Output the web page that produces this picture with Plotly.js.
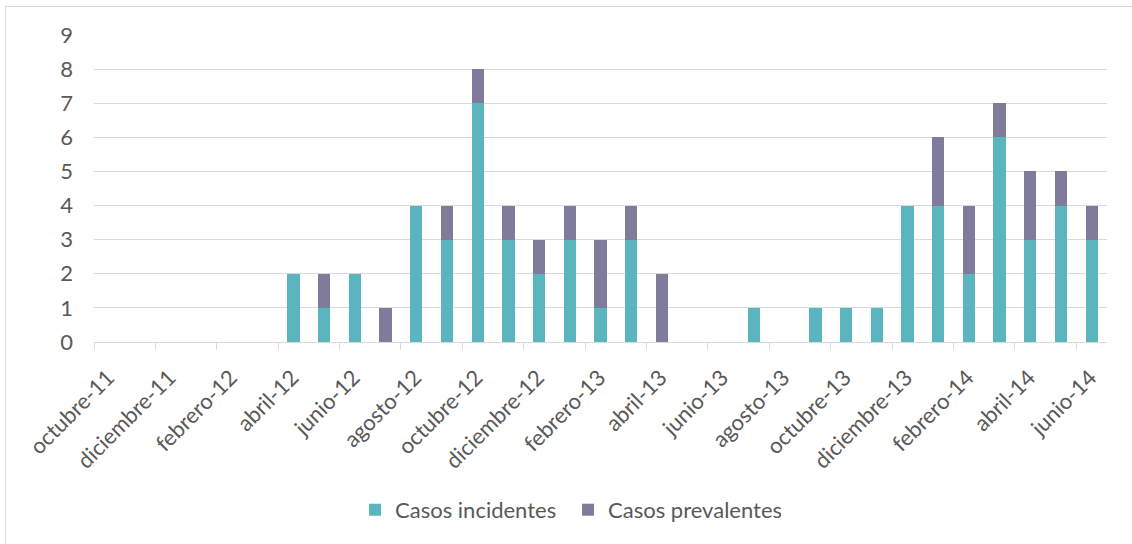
<!DOCTYPE html>
<html>
<head>
<meta charset="utf-8">
<script src="https://cdn.plot.ly/plotly-3.0.1.min.js"></script>
<style>
  html, body { margin: 0; padding: 0; background: #ffffff; }
  #wrap { position: relative; width: 1132px; height: 544px; overflow: hidden; }
  #chart { position: absolute; left: 0; top: 0; width: 1132px; height: 544px; }
  #frame { position: absolute; left: 5px; top: 6px; width: 1140px; height: 560px;
           border-left: 1px solid #d9d9d9; border-top: 1px solid #d9d9d9;
           pointer-events: none; }
</style>
</head>
<body>
<div id="wrap">
  <div id="chart"></div>
  <div id="frame"></div>
</div>
<script>
// Months from octubre-11 to junio-14
const months = [
  "octubre-11", "noviembre-11", "diciembre-11",
  "enero-12", "febrero-12", "marzo-12", "abril-12", "mayo-12", "junio-12",
  "julio-12", "agosto-12", "septiembre-12", "octubre-12", "noviembre-12", "diciembre-12",
  "enero-13", "febrero-13", "marzo-13", "abril-13", "mayo-13", "junio-13",
  "julio-13", "agosto-13", "septiembre-13", "octubre-13", "noviembre-13", "diciembre-13",
  "enero-14", "febrero-14", "marzo-14", "abril-14", "mayo-14", "junio-14"
];

const incidentes = [
  0, 0, 0,
  0, 0, 0, 2, 1, 2,
  0, 4, 3, 7, 3, 2,
  3, 1, 3, 0, 0, 0,
  1, 0, 1, 1, 1, 4,
  4, 2, 6, 3, 4, 3
];

const prevalentes = [
  0, 0, 0,
  0, 0, 0, 0, 1, 0,
  1, 0, 1, 1, 1, 1,
  1, 2, 1, 2, 0, 0,
  0, 0, 0, 0, 0, 0,
  2, 2, 1, 2, 1, 1
];

const seriesNames = ["Casos incidentes", "Casos prevalentes"];
const seriesColors = ["#5ab5bf", "#7f7b9b"];

// Each month occupies one unit; bars sit in the middle of their month,
// labelled ticks mark the start of every second month.
const xPos = months.map((m, i) => i);
const tickVals = months.map((m, i) => i - 0.5).filter((v, i) => i % 2 === 0);
const tickText = months.filter((m, i) => i % 2 === 0);

const fontFamily = "Lato, 'Open Sans', sans-serif";
const textColor = "#595959";
const gridColor = "#d9d9d9";

const traces = [
  {
    type: "bar", name: seriesNames[0], x: xPos, y: incidentes,
    marker: { color: seriesColors[0] }, width: 0.4, hoverinfo: "skip"
  },
  {
    type: "bar", name: seriesNames[1], x: xPos, y: prevalentes,
    marker: { color: seriesColors[1] }, width: 0.4, hoverinfo: "skip"
  }
];

const layout = {
  width: 1132, height: 544,
  margin: { l: 94, r: 25, t: 35, b: 202 },
  barmode: "stack",
  paper_bgcolor: "rgba(0,0,0,0)",
  plot_bgcolor: "rgba(0,0,0,0)",
  font: { family: fontFamily, size: 22, color: textColor },
  showlegend: true,
  legend: {
    orientation: "h", x: 0.2577, xanchor: "left", y: -0.547, yanchor: "middle",
    font: { family: fontFamily, size: 22, color: textColor },
    entrywidth: 168,
    traceorder: "normal"
  },
  xaxis: {
    range: [-0.5, months.length - 0.5],
    tickmode: "array", tickvals: tickVals, ticktext: tickText,
    tickangle: -45,
    ticks: "outside", ticklen: 7, tickcolor: gridColor, tickwidth: 1,
    showline: true, linecolor: gridColor, linewidth: 1,
    showgrid: false, zeroline: false,
    ticklabelstandoff: 6, ticklabelshift: 14,
    tickfont: { family: fontFamily, size: 22, color: textColor },
    fixedrange: true
  },
  yaxis: {
    range: [0, 9], dtick: 1, tick0: 0,
    showgrid: true, gridcolor: gridColor, gridwidth: 1,
    showline: false, zeroline: false, ticks: "",
    ticklabelstandoff: 20,
    tickfont: { family: fontFamily, size: 22, color: textColor },
    fixedrange: true
  }
};

Plotly.newPlot("chart", traces, layout, { displayModeBar: false, staticPlot: true });
</script>
</body>
</html>
